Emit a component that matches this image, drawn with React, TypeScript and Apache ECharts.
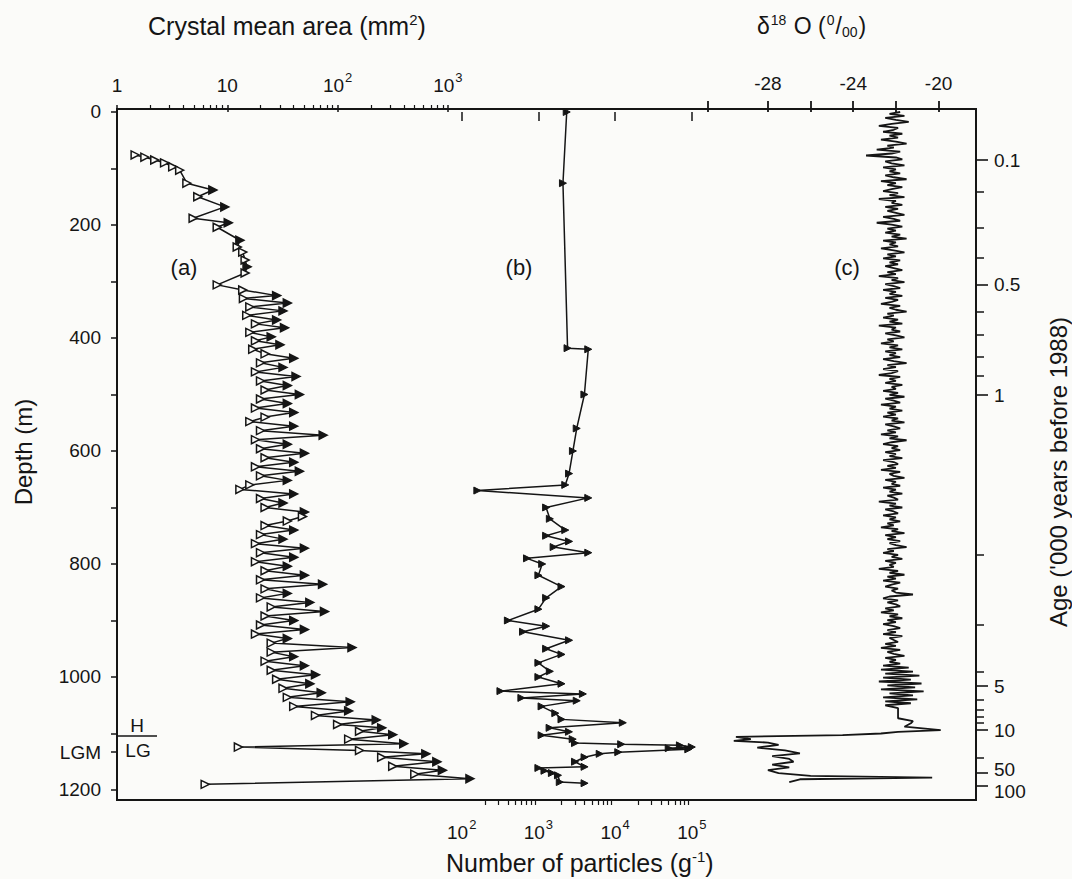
import React, { useEffect, useRef } from "react";
import * as echarts from "echarts";

// ---------- Depth / age axis ----------
const depthTickValues = [0, 100, 200, 300, 400, 500, 600, 700, 800, 900, 1000, 1100, 1133, 1200];
const depthLabelValues = [0, 200, 400, 600, 800, 1000, 1133, 1200];
const lgmDepth = 1133;
const ageLabels = ["0.1", "0.5", "1", "5", "10", "50", "100"];
const ageLabelDepths = [85, 306, 501, 1016, 1094, 1163, 1202];
const ageMajorTickDepths = [85, 306, 501, 1016, 1094, 1170, 1193];
const ageMinorDepths = [142, 204, 258, 354, 395, 434, 467, 784, 908, 991, 1041, 1058, 1071, 1081, 1143];

// ---------- top / bottom tick labels ----------
const crystalMajor = [1, 10, 100, 1000];
const crystalMinor = [2, 3, 4, 5, 6, 7, 8, 9, 20, 30, 40, 50, 60, 70, 80, 90, 200, 300, 400, 500, 600, 700, 800, 900];
const particleMajor = [100, 1000, 10000, 100000];
const particleMinor = [200, 300, 400, 500, 600, 700, 800, 900, 2000, 3000, 4000, 5000, 6000, 7000, 8000, 9000, 20000, 30000, 40000, 50000, 60000, 70000, 80000, 90000];
const deltaTicks = [-30.8, -28, -26, -24, -22, -20];
const deltaLabels = [-28, -24, -20];

// ---------- (a) crystal mean area (mm2) ----------
const aDepth = [76, 80, 85, 90, 97, 103, 126, 138, 150, 168, 188, 196, 204, 227, 239, 248, 262, 274, 285, 306, 315,
  325, 330, 338, 345, 352, 360, 368, 375, 382, 390, 398, 405, 412, 420, 428, 436, 444, 452, 460, 468, 476, 484, 492, 500,
  508, 516, 524, 532, 540, 548, 556, 564, 572, 580, 588, 596, 604, 612, 620, 628, 636, 644, 652, 660, 668, 676, 684, 692,
  700, 708, 716, 724, 732, 740, 748, 756, 764, 772, 780, 788, 796, 804, 812, 820, 828, 836, 844, 852, 860, 868, 876, 884,
  892, 900, 908, 916, 924, 932, 940, 948, 956, 964, 972, 980, 988, 996, 1004, 1012, 1020, 1028, 1036, 1044, 1052, 1060,
  1068, 1076, 1084, 1090, 1096, 1102, 1110, 1118, 1124, 1130, 1136, 1142, 1150, 1158, 1165, 1172, 1180, 1190];
const aArea = [1.46, 1.79, 2.2, 2.7, 3.2, 3.7, 4.3, 7.4, 5.4, 9.5, 4.9, 10.2, 8.1, 13, 12.3, 13.8, 14.5, 15.1, 14.5, 8.1, 13.8,
  28, 14, 35, 16, 32, 15, 28, 18, 33, 16, 25, 18, 30, 17, 22, 40, 20, 32, 18, 42, 20, 35, 22, 45,
  20, 35, 18, 40, 22, 16, 40, 20, 74, 18, 35, 20, 50, 22, 40, 18, 45, 20, 35, 16, 13, 40, 20, 32, 22,
  50, 48, 35, 22, 40, 20, 32, 18, 50, 20, 40, 18, 35, 22, 50, 20, 73, 22, 35, 20, 56, 25, 76, 22,
  40, 20, 50, 18, 35, 25, 135, 25, 40, 22, 50, 25, 63, 28, 56, 32, 71, 35, 130, 40, 126, 63, 224, 100,
  251, 158, 316, 126, 398, 12.6, 158, 631, 251, 794, 316, 891, 501, 1585, 6.3];

// ---------- (b) number of particles (per g) ----------
const bDepth = [0, 126, 418, 420, 500, 560, 600, 640, 660, 670, 683, 700, 720, 740, 750, 760, 770, 780, 790, 800, 820, 840,
  860, 880, 900, 910, 920, 935, 950, 960, 975, 990, 1000, 1012, 1025, 1030, 1037, 1042, 1052, 1064, 1075, 1081, 1090,
  1097, 1103, 1110, 1117, 1119, 1121, 1124, 1126, 1128, 1133, 1136, 1142, 1150, 1159, 1161, 1166, 1170, 1174, 1186, 1188];
const bCount = [2340, 2090, 2400, 4470, 3980, 3160, 2820, 2510, 2240, 160, 4470, 1260, 1410, 2240, 1260, 2510, 1580, 4470,
  710, 1120, 1000, 2000, 1260, 1000, 400, 1260, 630, 2510, 1260, 2000, 1000, 1410, 1000, 2000, 320, 3800, 600, 3160, 1100,
  1660, 2000, 12600, 1400, 2500, 1100, 2800, 3000, 12000, 70000, 100000, 50000, 90000, 11000, 6300, 4000, 3000, 4000, 1000,
  1200, 1500, 1800, 1900, 4000];

// ---------- (c) delta 18O (per mil) ----------
// upper part: one reading every cStep metres from the surface
const cStep = 3.5;
const cUpper = [
  -21.8, -22.3, -21.6, -22.5, -22.0, -21.4, -22.2, -22.8, -21.9, -22.1,
  -22.6, -21.7, -22.3, -21.9, -22.7, -22.0, -21.5, -22.4, -22.1, -22.9,
  -21.8, -22.2, -23.4, -22.0, -21.7, -22.5, -22.2, -21.6, -22.6, -22.0,
  -22.3, -21.8, -22.5, -22.1, -21.5, -22.7, -22.0, -22.4, -21.7, -22.2,
  -22.6, -21.9, -22.3, -21.6, -22.8, -22.0, -22.2, -21.7, -22.5, -21.9,
  -22.4, -22.0, -21.6, -22.6, -22.1, -21.8, -22.9, -22.2, -21.7, -22.4,
  -22.0, -22.5, -21.8, -22.2, -21.5, -22.6, -22.0, -22.3, -21.9, -22.7,
  -22.1, -21.6, -22.4, -22.0, -22.6, -21.8, -22.3, -21.9, -22.5, -22.1,
  -21.7, -22.4, -22.0, -22.8, -21.9, -22.2, -21.6, -22.5, -22.1, -21.8,
  -22.6, -22.0, -22.3, -21.7, -22.5, -21.9, -22.2, -22.7, -21.8, -22.3,
  -22.0, -21.5, -22.4, -22.1, -22.6, -21.9, -22.3, -21.7, -22.8, -22.0,
  -22.2, -21.8, -22.5, -22.0, -21.6, -22.4, -22.1, -22.7, -21.9, -22.3,
  -21.7, -22.5, -22.0, -22.3, -21.8, -22.6, -22.1, -21.5, -22.4, -22.0,
  -22.6, -21.9, -22.2, -22.8, -21.8, -22.3, -22.0, -22.5, -21.7, -22.2,
  -22.0, -22.6, -21.9, -22.3, -21.6, -22.5, -22.1, -21.8, -22.7, -22.0,
  -22.3, -21.7, -22.4, -22.0, -22.6, -21.9, -22.2, -21.6, -22.5, -22.1,
  -21.8, -22.4, -22.0, -22.7, -21.9, -22.3, -21.5, -22.2, -22.6, -21.9,
  -22.2, -21.8, -22.5, -22.0, -22.3, -21.7, -22.6, -22.1, -21.9, -22.4,
  -22.0, -22.7, -21.8, -22.3, -22.1, -21.6, -22.5, -22.0, -22.2, -21.8,
  -22.6, -22.0, -22.3, -21.7, -22.4, -22.1, -21.9, -22.8, -22.0, -22.3,
  -21.7, -22.5, -22.1, -21.9, -22.6, -22.0, -22.3, -21.8, -22.4, -22.1,
  -22.7, -21.9, -22.2, -21.6, -22.5, -22.0, -22.4, -21.8, -22.3, -22.0,
  -21.5, -22.4, -22.1, -22.6, -21.9, -22.2, -21.7, -22.5, -22.0, -22.3,
  -22.1, -22.8, -21.9, -22.3, -21.6, -22.4, -22.0, -22.6, -21.8, -22.2,
  -22.5, -21.9, -22.2, -22.0, -21.2, -22.3, -22.6, -21.9, -22.4, -22.0,
  -21.8, -22.5, -22.1, -22.7, -21.9, -22.3, -21.7, -22.4, -22.0, -22.6,
  -22.1, -21.8, -22.4, -22.0, -22.6, -21.7, -22.3, -22.1, -21.9, -22.5,
  -22.0, -22.7, -21.8, -22.4, -22.1, -21.6, -22.5, -22.0, -22.3, -21.8,
  -22.6, -21.4, -22.7, -21.2, -22.5, -20.9, -22.6, -21.3, -22.8, -20.8,
  -22.4, -21.1, -22.7, -20.7, -22.3, -21.2, -22.6, -21.0, -22.5, -21.3,
];
// deepest part (irregular readings)
const cDeepDepth = [1050, 1055, 1060, 1066, 1073, 1078, 1082, 1088, 1094, 1097, 1100, 1103, 1106,
  1110, 1113, 1116, 1120, 1125, 1130, 1135, 1140, 1145, 1150, 1155, 1160, 1165, 1170, 1175, 1178, 1181, 1186];
const cDeepDelta = [-22.5, -21.9, -21.9, -21.9, -21.9, -21.2, -21.3, -21.6, -19.9, -21.9, -22.7, -24.5, -29.5,
  -28.8, -29.6, -28.0, -27.5, -28.5, -27.2, -26.5, -27.8, -27.0, -26.8, -27.8, -27.0, -28.0, -27.5, -26.0, -20.3, -26.5, -27.0];

const FONT = "Liberation Sans, Arial, Helvetica, sans-serif";
const INK = "#151515";
const BG = "#fbfbf9";

const Y_MIN = -5.3;
const Y_MAX = 1217.7;
const TOP = 109;
const HEIGHT = 691;

const supFmt = (v: number) => {
  if (v === 1) return "{n|1}";
  if (v === 10) return "{n|10}";
  return "{n|10}{s|" + Math.round(Math.log10(v)) + "}";
};
const supRich = {
  n: { fontSize: 19, fontFamily: FONT, color: INK, lineHeight: 24, verticalAlign: "bottom" },
  s: { fontSize: 13, fontFamily: FONT, color: INK, lineHeight: 24, verticalAlign: "top", padding: [0, 0, 6, 1] },
};

export default function App() {
  const ref = useRef<HTMLDivElement>(null);
  useEffect(() => {
    document.body.style.margin = "0";
    const chart = echarts.init(ref.current!, null, { renderer: "svg" });
    const hiddenY = (gi: number) => ({
      type: "value", gridIndex: gi, min: Y_MIN, max: Y_MAX, inverse: true, show: false,
    });
    const cData: number[][] = cUpper.map((v, i) => [v, i * cStep]);
    cDeepDepth.forEach((d, i) => cData.push([cDeepDelta[i], d]));
    // right-hand turning points of (a) drawn as solid arrow heads, the others open
    const aData = aDepth.map((d, i) => {
      const v = aArea[i];
      const prev = i > 0 ? aArea[i - 1] : -Infinity;
      const next = i < aArea.length - 1 ? aArea[i + 1] : -Infinity;
      const peak = v > prev && v > next && i > 5;
      return { value: [v, d], itemStyle: { color: peak ? INK : BG, borderColor: INK, borderWidth: 1.5 } };
    });
    const option: any = {
      animation: false,
      backgroundColor: BG,
      grid: [
        { left: 117, top: TOP, width: 859, height: HEIGHT, show: true, borderColor: INK, borderWidth: 2, backgroundColor: "transparent" },
        { left: 117, top: TOP, width: 441.2, height: HEIGHT },
        { left: 385, top: TOP, width: 383.5, height: HEIGHT },
        { left: 682.6, top: TOP, width: 293.3, height: HEIGHT },
      ],
      xAxis: [
        { type: "value", gridIndex: 0, min: 0, max: 1, show: false },
        {
          type: "log", logBase: 10, gridIndex: 1, min: 1, max: 10000, position: "top",
          axisLine: { show: false }, splitLine: { show: false },
          axisTick: { show: true, inside: false, length: 7, lineStyle: { color: INK, width: 1.5 }, customValues: crystalMajor },
          axisLabel: { show: true, margin: 14, showMinLabel: true, showMaxLabel: true, customValues: crystalMajor, formatter: supFmt, rich: supRich },
        },
        {
          type: "log", logBase: 10, gridIndex: 1, min: 1, max: 10000, position: "top",
          axisLine: { show: false }, splitLine: { show: false },
          axisTick: { show: true, inside: false, length: 4, lineStyle: { color: INK, width: 1.2 }, customValues: crystalMinor },
          axisLabel: { show: false },
        },
        {
          type: "log", logBase: 10, gridIndex: 2, min: 10, max: 1000000, position: "bottom",
          axisLine: { show: false }, splitLine: { show: false },
          axisTick: { show: true, inside: false, length: 9, lineStyle: { color: INK, width: 1.5 }, customValues: particleMajor },
          axisLabel: { show: true, margin: 18, showMinLabel: true, showMaxLabel: true, customValues: particleMajor, formatter: supFmt, rich: supRich },
        },
        {
          type: "log", logBase: 10, gridIndex: 2, min: 10, max: 1000000, position: "bottom",
          axisLine: { show: false }, splitLine: { show: false },
          axisTick: { show: true, inside: false, length: 5, lineStyle: { color: INK, width: 1.2 }, customValues: particleMinor },
          axisLabel: { show: false },
        },
        {
          type: "value", gridIndex: 3, min: -32, max: -18.25, position: "top",
          axisLine: { show: false }, splitLine: { show: false },
          axisTick: { show: true, inside: false, length: 11, lineStyle: { color: INK, width: 1.8 }, customValues: deltaTicks },
          axisLabel: { show: true, margin: 16, showMinLabel: true, showMaxLabel: true, customValues: deltaLabels, fontSize: 19, fontFamily: FONT, color: INK },
        },
      ],
      yAxis: [
        {
          type: "value", gridIndex: 0, min: Y_MIN, max: Y_MAX, inverse: true, position: "left",
          axisLine: { show: false }, splitLine: { show: false },
          axisTick: { show: true, inside: false, length: 6, lineStyle: { color: INK, width: 1.5 }, customValues: depthTickValues },
          axisLabel: {
            show: true, margin: 16, showMinLabel: true, showMaxLabel: true, customValues: depthLabelValues, fontSize: 19, fontFamily: FONT, color: INK,
            formatter: (v: number) => (Math.abs(v - lgmDepth) < 0.5 ? "LGM" : String(v)),
          },
        },
        {
          type: "value", gridIndex: 0, min: Y_MIN, max: Y_MAX, inverse: true, position: "right",
          axisLine: { show: false }, splitLine: { show: false },
          axisTick: { show: false },
          axisLabel: {
            show: true, margin: 18, showMinLabel: true, showMaxLabel: true, hideOverlap: false, customValues: ageLabelDepths, fontSize: 19, fontFamily: FONT, color: INK,
            formatter: (v: number) => ageLabels[ageLabelDepths.indexOf(v)] ?? "",
          },
        },
        {
          type: "value", gridIndex: 0, min: Y_MIN, max: Y_MAX, inverse: true, position: "right",
          axisLine: { show: false }, splitLine: { show: false },
          axisTick: { show: true, inside: false, length: 12, lineStyle: { color: INK, width: 1.6 }, customValues: ageMajorTickDepths },
          axisLabel: { show: false },
        },
        {
          type: "value", gridIndex: 0, min: Y_MIN, max: Y_MAX, inverse: true, position: "right",
          axisLine: { show: false }, splitLine: { show: false },
          axisTick: { show: true, inside: false, length: 8, lineStyle: { color: INK, width: 1.5 }, customValues: ageMinorDepths },
          axisLabel: { show: false },
        },
        hiddenY(1),
        hiddenY(2),
        hiddenY(3),
      ],
      series: [
        {
          type: "line", name: "a", xAxisIndex: 1, yAxisIndex: 4,
          data: aData,
          lineStyle: { color: INK, width: 1.5 },
          symbol: "triangle", symbolRotate: -90, symbolSize: 8,
          itemStyle: { color: BG, borderColor: INK, borderWidth: 1.5 },
        },
        {
          type: "line", name: "b", xAxisIndex: 3, yAxisIndex: 5,
          data: bDepth.map((d, i) => [bCount[i], d]),
          lineStyle: { color: INK, width: 1.5 },
          symbol: "triangle", symbolRotate: -90, symbolSize: 7,
          itemStyle: { color: INK, borderColor: INK, borderWidth: 1 },
        },
        {
          type: "line", name: "c", xAxisIndex: 5, yAxisIndex: 6,
          data: cData,
          lineStyle: { color: INK, width: 1.8 },
          symbol: "none",
        },
      ],
      graphic: [
        { type: "text", left: 148, top: 12, style: { text: "Crystal mean area (mm{s|2})", fontSize: 25, fontFamily: FONT, fill: INK,
          rich: { s: { fontSize: 15, fontFamily: FONT, fill: INK, verticalAlign: "top", lineHeight: 28, padding: [0, 0, 8, 0] } } } },
        { type: "text", left: 757, top: 13, style: { text: "δ{s|18} O ({s|0}/{d|00})", fontSize: 23, fontFamily: FONT, fill: INK,
          rich: {
            s: { fontSize: 14, fontFamily: FONT, fill: INK, verticalAlign: "top", lineHeight: 26, padding: [0, 1, 8, 1] },
            d: { fontSize: 14, fontFamily: FONT, fill: INK, verticalAlign: "bottom", lineHeight: 26, padding: [4, 1, 0, 0] },
          } } },
        { type: "text", left: 446, top: 849, style: { text: "Number of particles (g{s|-1})", fontSize: 25, fontFamily: FONT, fill: INK,
          rich: { s: { fontSize: 15, fontFamily: FONT, fill: INK, verticalAlign: "top", lineHeight: 27, padding: [0, 0, 8, 0] } } } },
        { type: "text", x: 23, y: 452, rotation: Math.PI / 2, style: { text: "Depth (m)", fontSize: 24, fontFamily: FONT, fill: INK, align: "center", verticalAlign: "middle" } },
        { type: "text", x: 1058, y: 472, rotation: Math.PI / 2, style: { text: "Age ('000 years before 1988)", fontSize: 24, fontFamily: FONT, fill: INK, align: "center", verticalAlign: "middle" } },
        { type: "text", x: 184, y: 267, style: { text: "(a)", fontSize: 22, fontFamily: FONT, fill: INK, align: "center", verticalAlign: "middle" } },
        { type: "text", x: 519, y: 267, style: { text: "(b)", fontSize: 22, fontFamily: FONT, fill: INK, align: "center", verticalAlign: "middle" } },
        { type: "text", x: 847, y: 267, style: { text: "(c)", fontSize: 22, fontFamily: FONT, fill: INK, align: "center", verticalAlign: "middle" } },
        { type: "text", x: 137, y: 725, style: { text: "H", fontSize: 19, fontFamily: FONT, fill: INK, align: "center", verticalAlign: "middle" } },
        { type: "text", x: 138, y: 750, style: { text: "LG", fontSize: 19, fontFamily: FONT, fill: INK, align: "center", verticalAlign: "middle" } },
        { type: "line", shape: { x1: 117, y1: 736, x2: 157, y2: 736 }, style: { stroke: INK, lineWidth: 1.5 } },
      ],
    };
    chart.setOption(option);
    return () => chart.dispose();
  }, []);
  return <div ref={ref} style={{ width: 1072, height: 879 }} />;
}
